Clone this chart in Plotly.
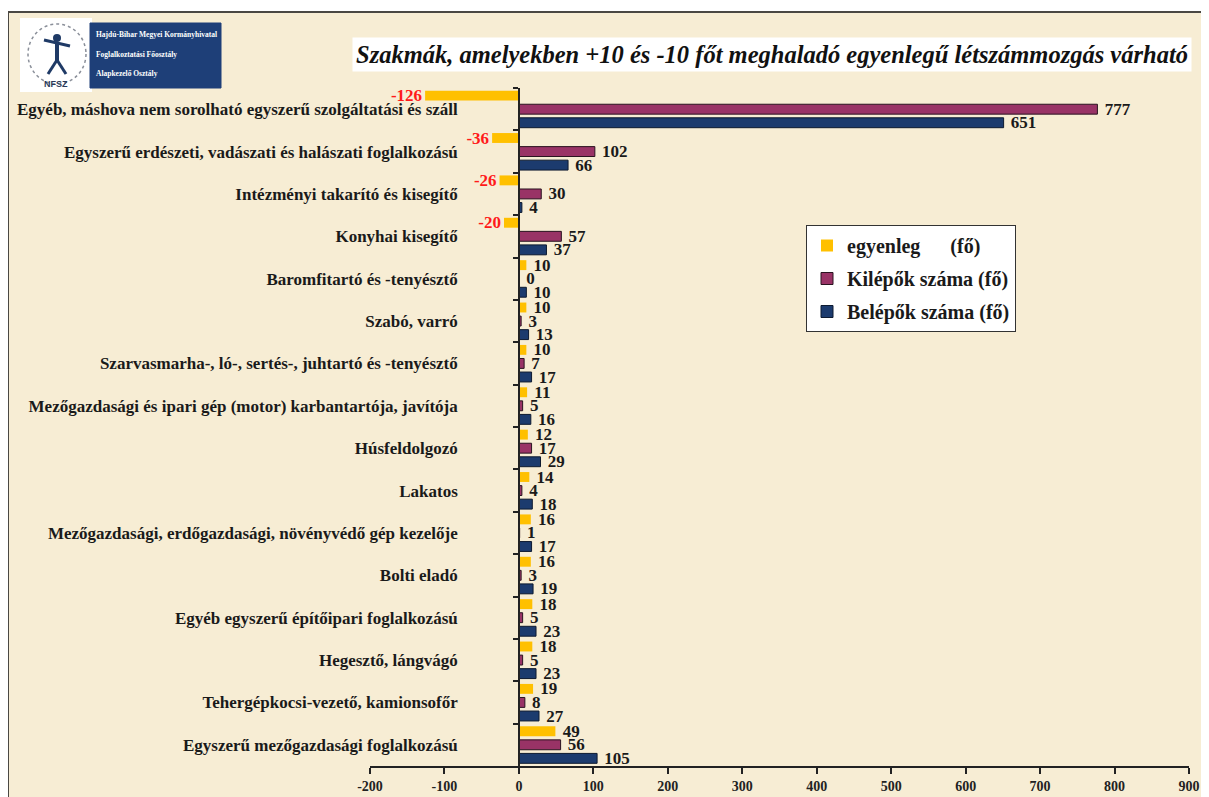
import plotly.graph_objects as go

categories = [
    "Egyéb, máshova nem sorolható egyszerű szolgáltatási és száll",
    "Egyszerű erdészeti, vadászati és halászati foglalkozású",
    "Intézményi takarító és kisegítő",
    "Konyhai kisegítő",
    "Baromfitartó és -tenyésztő",
    "Szabó, varró",
    "Szarvasmarha-, ló-, sertés-, juhtartó és -tenyésztő",
    "Mezőgazdasági és ipari gép (motor) karbantartója, javítója",
    "Húsfeldolgozó",
    "Lakatos",
    "Mezőgazdasági, erdőgazdasági, növényvédő gép kezelője",
    "Bolti eladó",
    "Egyéb egyszerű építőipari foglalkozású",
    "Hegesztő, lángvágó",
    "Tehergépkocsi-vezető, kamionsofőr",
    "Egyszerű mezőgazdasági foglalkozású",
]
egyenleg = [-126, -36, -26, -20, 10, 10, 10, 11, 12, 14, 16, 16, 18, 18, 19, 49]
kilepok = [777, 102, 30, 57, 0, 3, 7, 5, 17, 4, 1, 3, 5, 5, 8, 56]
belepok = [651, 66, 4, 37, 10, 13, 17, 16, 29, 18, 17, 19, 23, 23, 27, 105]
x_ticks = [-200, -100, 0, 100, 200, 300, 400, 500, 600, 700, 800, 900]
x_tick_labels = ["-200", "-100", "0", "100", "200", "300", "400", "500", "600", "700", "800", "900"]

title_text = "Szakmák, amelyekben +10 és -10 főt meghaladó egyenlegű létszámmozgás várható"
logo_lines = ["Hajdú-Bihar Megyei Kormányhivatal", "Foglalkoztatási Főosztály", "Alapkezelő Osztály"]

W, H = 1209, 797
OFF = 8  # page body margin
FONT = "Liberation Serif"
BG = "#F7EDD4"
DARK = "#1a1a1a"
NB = "\u00a0"

def px(x):
    return (x - OFF) / W

def py(y):
    return 1 - (y - OFF) / H

x0, x1 = 370, 1189
y_top, y_bot = 88, 766
xr = [-200, 900]
zero_px = x0 + (x1 - x0) * (0 - xr[0]) / (xr[1] - xr[0])

fig = go.Figure()

lab_font = dict(family=FONT, size=17, color=DARK, weight="bold")
fig.add_trace(go.Bar(
    y=categories, x=egyenleg, orientation="h",
    name="egyenleg" + NB * 6 + "(fő)",
    marker=dict(color="#FFC000", line=dict(width=0)),
    text=[(NB + str(v)) if v >= 0 else str(v) for v in egyenleg], textposition="outside",
    textfont=dict(family=FONT, size=17, weight="bold",
                  color=["#FF1A1A" if v < 0 else DARK for v in egyenleg]),
    cliponaxis=False, constraintext="none", legendgroup="a",
))
fig.add_trace(go.Bar(
    y=categories, x=kilepok, orientation="h", name="Kilépők száma (fő)",
    marker=dict(color="#993366", line=dict(width=1, color="#2a1420")),
    texttemplate=NB + "%{x}", textposition="outside", textfont=lab_font,
    cliponaxis=False, constraintext="none", legendgroup="b",
))
fig.add_trace(go.Bar(
    y=categories, x=belepok, orientation="h", name="Belépők száma (fő)",
    marker=dict(color="#1C3B6E", line=dict(width=1, color="#0d1a30")),
    texttemplate=NB + "%{x}", textposition="outside", textfont=lab_font,
    cliponaxis=False, constraintext="none", legendgroup="c",
))

shapes = [
    dict(type="rect", xref="paper", yref="paper", x0=px(8), x1=px(1225), y0=py(815), y1=py(12),
         fillcolor=BG, line=dict(color="#4a4843", width=2), layer="below"),
    dict(type="rect", xref="paper", yref="paper", x0=px(20), x1=px(92), y0=py(92), y1=py(18),
         fillcolor="white", line=dict(width=0), layer="below"),
    dict(type="circle", xref="paper", yref="paper", x0=px(28), x1=px(86), y0=py(84), y1=py(24),
         fillcolor="rgba(0,0,0,0)", line=dict(color="#8a8f99", width=1.5, dash="dot"), layer="below"),
    dict(type="line", xref="paper", yref="paper", x0=px(44), x1=px(70), y0=py(40), y1=py(46),
         line=dict(color="#1f3a66", width=3)),
    dict(type="line", xref="paper", yref="paper", x0=px(57), x1=px(57), y0=py(42), y1=py(62),
         line=dict(color="#1f3a66", width=4)),
    dict(type="line", xref="paper", yref="paper", x0=px(57), x1=px(48), y0=py(60), y1=py(74),
         line=dict(color="#1f3a66", width=3)),
    dict(type="line", xref="paper", yref="paper", x0=px(57), x1=px(66), y0=py(60), y1=py(74),
         line=dict(color="#1f3a66", width=3)),
    dict(type="circle", xref="paper", yref="paper", x0=px(53), x1=px(61), y0=py(42), y1=py(34),
         fillcolor="#1f3a66", line=dict(width=0)),
    dict(type="rect", xref="paper", yref="paper", x0=px(90), x1=px(221), y0=py(88), y1=py(23),
         fillcolor="#1E3F78", line=dict(color="#1E3F78", width=1), layer="below"),
]

annotations = [
    dict(text=f"<b><i>{title_text}</i></b>", xref="paper", yref="paper", x=px(772), y=py(55),
         xanchor="center", yanchor="middle", showarrow=False, bgcolor="white", borderpad=3,
         font=dict(family=FONT, size=24.5, color="#111111")),
    dict(text="<b>NFSZ</b>", xref="paper", yref="paper", x=px(56), y=py(84), xanchor="center",
         yanchor="middle", showarrow=False, font=dict(family="Liberation Sans", size=9, color="#2a3a5a")),
]
for i, line in enumerate(logo_lines):
    annotations.append(dict(
        text=f"<b>{line}</b>", xref="paper", yref="paper", x=px(94), y=py(35 + i * 19),
        xanchor="left", yanchor="middle", showarrow=False,
        font=dict(family="Liberation Sans Narrow, " + FONT, size=7.5, color="white")))

fig.update_layout(
    width=W, height=H,
    margin=dict(l=0, r=0, t=0, b=0, autoexpand=False),
    paper_bgcolor="white",
    plot_bgcolor="rgba(0,0,0,0)",
    barmode="group", bargap=0.04, bargroupgap=0.27,
    shapes=shapes, annotations=annotations,
    font=dict(family=FONT, color=DARK),
    xaxis=dict(
        domain=[px(x0), px(x1)], range=xr, tickvals=x_ticks, ticktext=x_tick_labels,
        automargin=False,
        showgrid=False, zeroline=False, showline=True, linecolor="#222", linewidth=1.5,
        ticks="outside", ticklen=6, tickcolor="#222", tickwidth=1.5,
        tickfont=dict(family=FONT, size=14, color="#222", weight="bold"),
        anchor="y", fixedrange=True,
    ),
    yaxis=dict(
        domain=[py(y_bot), py(y_top)], autorange="reversed", type="category",
        anchor="free", position=px(zero_px), automargin=False,
        showgrid=False, zeroline=False, showline=True, linecolor="#222", linewidth=1.5,
        ticks="outside", ticklen=5, tickcolor="#222", tickwidth=1.5, tickson="boundaries",
        tickfont=dict(family=FONT, size=17, color=DARK, weight="bold"), ticklabelstandoff=57,
        fixedrange=True,
    ),
    legend=dict(
        x=px(806), y=py(225), xanchor="left", yanchor="top",
        bgcolor="white", bordercolor="#333", borderwidth=1,
        font=dict(family=FONT, size=20, color=DARK, weight="bold"),
        traceorder="grouped", tracegroupgap=4,
        itemwidth=30,
    ),
    showlegend=True,
)

fig.write_html("out.html")
